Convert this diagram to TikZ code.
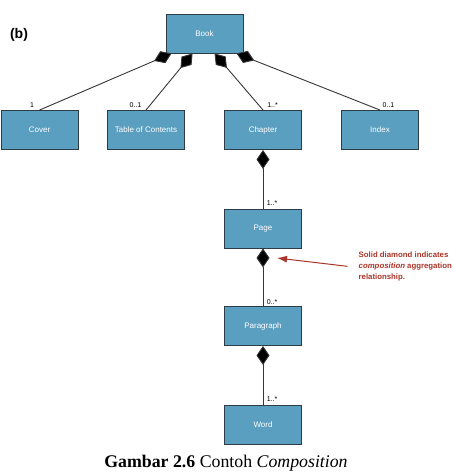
\documentclass[tikz,border=0pt]{standalone}
\usepackage{fontspec}
\setmainfont{Liberation Serif}
\setsansfont{Liberation Sans}
\usetikzlibrary{arrows.meta}
\definecolor{boxfill}{RGB}{90,158,192}
\definecolor{boxline}{RGB}{45,60,70}
\definecolor{notered}{RGB}{170,52,40}
\definecolor{connline}{RGB}{55,55,55}
\tikzset{
  umlbox/.style={draw=boxline, line width=0.9pt, fill=boxfill, minimum width=77pt, minimum height=39pt, inner sep=0pt,
    font=\sffamily\fontsize{8}{9}\selectfont, text=white},
  mult/.style={font=\sffamily\fontsize{7}{8}\selectfont, inner sep=0pt, text=black},
  compo/.style={draw=connline, line width=0.9pt, -{Diamond[length=19pt,width=13pt,fill=black]}},
  notetext/.style={font=\sffamily\bfseries\fontsize{7.8}{11}\selectfont, text=notered, align=left, inner sep=0pt},
  notearrow/.style={draw=notered, line width=1pt, -{Latex[length=10pt,width=7pt]}}
}
\begin{document}
\begin{tikzpicture}[x=1pt,y=-1pt]
\useasboundingbox (0,0) rectangle (453,476);
% boxes
\node[umlbox] (book) at (204.5,33.5) {Book};
\node[umlbox] (cover) at (39.5,130) {Cover};
\node[umlbox] (toc) at (146,130) {Table of Contents};
\node[umlbox] (chapter) at (263,130) {Chapter};
\node[umlbox] (index) at (380,130) {Index};
\node[umlbox] (page) at (263,228.5) {Page};
\node[umlbox] (paragraph) at (263,326) {Paragraph};
\node[umlbox] (word) at (263,424.5) {Word};
% attachment points on Book
\coordinate (b1) at ([xshift=6pt]book.south west);
\coordinate (b2) at ([xshift=27pt]book.south west);
\coordinate (b3) at ([xshift=49pt]book.south west);
\coordinate (b4) at ([xshift=71pt]book.south west);
% connectors
\draw[compo] (cover.north) -- (b1);
\draw[compo] (toc.north) -- (b2);
\draw[compo] (chapter.north) -- (b3);
\draw[compo] (index.north) -- (b4);
\draw[compo] (page.north) -- (chapter.south);
\draw[compo] (paragraph.north) -- (page.south);
\draw[compo] (word.north) -- (paragraph.south);
% multiplicities
\node[mult] (m1) at (32,105) {1};
\node[mult] (m2) at (135.5,105) {0..1};
\node[mult] (m3) at (272.5,105) {1..*};
\node[mult] (m4) at (388.5,105) {0..1};
\node[mult] (m5) at (272,203.5) {1..*};
\node[mult] (m6) at (272,302) {0..*};
\node[mult] (m7) at (272,399.5) {1..*};
% label (b)
\node[font=\sffamily\bfseries\fontsize{14}{16}\selectfont, inner sep=0pt] (lbl) at (19,35) {(b)};
% note
\node[notetext, anchor=north west] (note) at (358.5,251.5) {Solid diamond indicates\\\textit{composition} aggregation\\relationship.};
\coordinate (tip) at (277,258);
\draw[notearrow] ([xshift=-11pt]note.west) -- (tip);
% caption
\node[font=\fontsize{17.8}{20}\selectfont, inner sep=0pt] (caption) at (226,463.5) {\textbf{Gambar 2.6} Contoh \textit{Composition}};
\end{tikzpicture}
\end{document}
